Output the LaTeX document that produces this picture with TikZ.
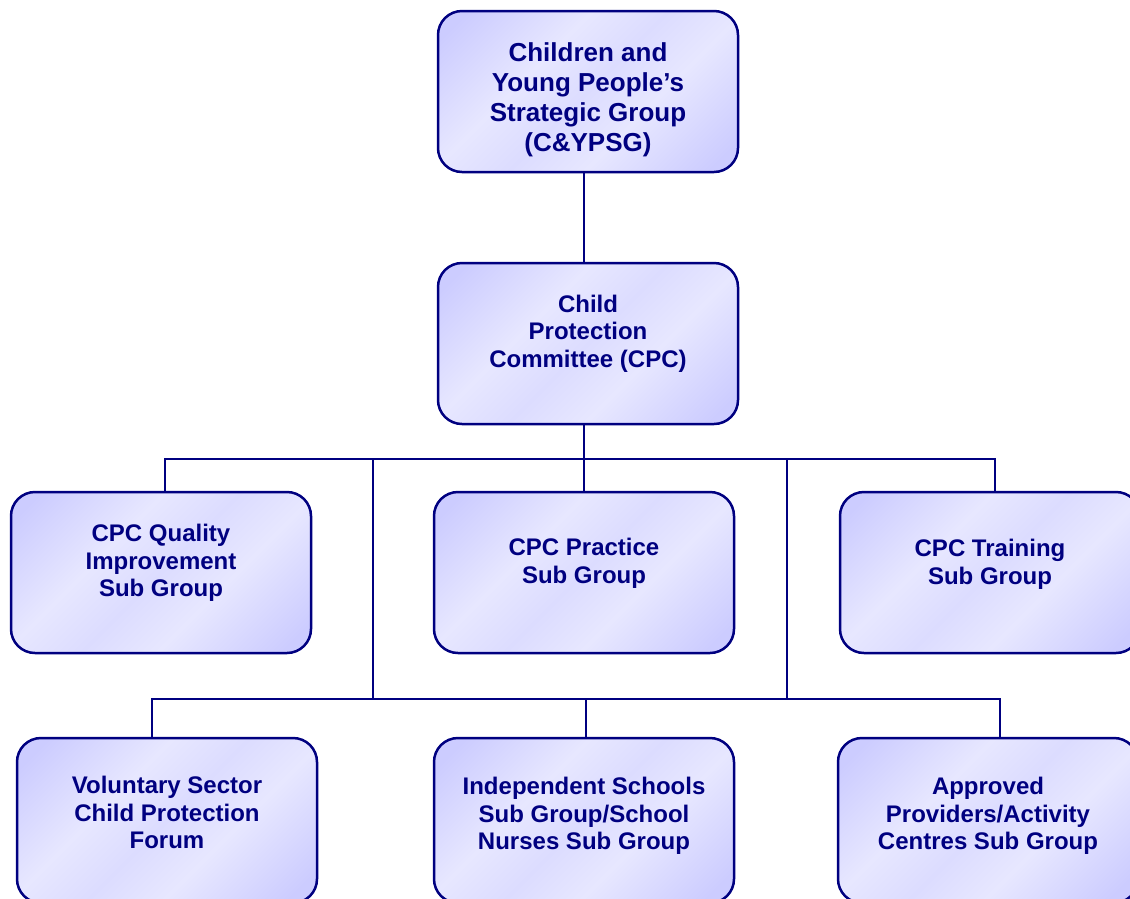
\documentclass[tikz,border=0pt]{standalone}
\usepackage{fontspec}
\setmainfont{Liberation Sans}
\definecolor{navy}{RGB}{0,0,128}
\definecolor{bdark}{RGB}{204,204,255}
\definecolor{bmid}{RGB}{220,220,255}
\definecolor{blight}{RGB}{231,231,255}
\pgfdeclarehorizontalshading{boxshade}{100bp}{color(0bp)=(bdark); color(29bp)=(bdark); color(42bp)=(blight); color(50bp)=(bmid); color(58bp)=(blight); color(71bp)=(bdark); color(100bp)=(bdark)}
\tikzset{
  box/.style={rectangle, rounded corners=24pt, draw=navy, line width=2.5pt,
    minimum width=300pt, minimum height=161pt, inner sep=0pt, outer sep=0pt,
    path picture={\shade[shading=boxshade, shading angle=-45]
      ([shift={(-170pt,-170pt)}]path picture bounding box.center) rectangle
      ([shift={(170pt,170pt)}]path picture bounding box.center);}},
  tallbox/.style={box, minimum height=165pt},
  lbl/.style={anchor=north, inner sep=0pt, outer sep=0pt, align=center, text=navy,
    font=\fontsize{24}{27.6}\selectfont\bfseries},
  biglbl/.style={lbl, font=\fontsize{26}{29.9}\selectfont\bfseries},
  conn/.style={draw=navy, line width=2pt}
}
\begin{document}
\begin{tikzpicture}[x=1pt,y=-1pt]
\useasboundingbox (0,0) rectangle (1130,898);
\clip (0,0) rectangle (1130,898);
% junction coordinates
\coordinate (busA) at (584,459);
\coordinate (dq) at (165,459);
\coordinate (dt) at (995,459);
\coordinate (v1) at (373,459);
\coordinate (v2) at (787,459);
\coordinate (b1) at (152,699);
\coordinate (b2) at (586,699);
\coordinate (b3) at (1000,699);
% boxes
\path (588,91.5) node[box] (top) {};
\path (588,343.5) node[box] (cpc) {};
\path (161,572.5) node[box] (qual) {};
\path (584,572.5) node[box] (prac) {};
\path (990,572.5) node[box] (train) {};
\path (167,820.5) node[tallbox] (vol) {};
\path (584,820.5) node[tallbox] (ind) {};
\path (988,820.5) node[tallbox] (appr) {};
% connectors
\draw[conn] (top.south -| busA) -- (cpc.north -| busA);
\draw[conn] (cpc.south -| busA) -- (prac.north -| busA);
\draw[conn] (dq |- qual.north) -- (dq) -- (dt) -- (dt |- train.north);
\draw[conn] (v1) -- (v1 |- b1);
\draw[conn] (v2) -- (v2 |- b1);
\draw[conn] (b1 |- vol.north) -- (b1) -- (b3) -- (b3 |- appr.north);
\draw[conn] (b2) -- (b2 |- ind.north);
% labels
\node[biglbl] (ttop) at (588,43) {Children and\\Young People’s\\Strategic Group\\(C\&YPSG)};
\node[lbl] (tcpc) at (588,295) {Child\\Protection\\Committee (CPC)};
\node[lbl] (tqual) at (161,524) {CPC Quality\\Improvement\\Sub Group};
\node[lbl] (tprac) at (584,538) {CPC Practice\\Sub Group};
\node[lbl] (ttrain) at (990,539) {CPC Training\\Sub Group};
\node[lbl] (tvol) at (167,776) {Voluntary Sector\\Child Protection\\Forum};
\node[lbl] (tind) at (584,777) {Independent Schools\\Sub Group/School\\Nurses Sub Group};
\node[lbl] (tappr) at (988,777) {Approved\\Providers/Activity\\Centres Sub Group};
\end{tikzpicture}
\end{document}
